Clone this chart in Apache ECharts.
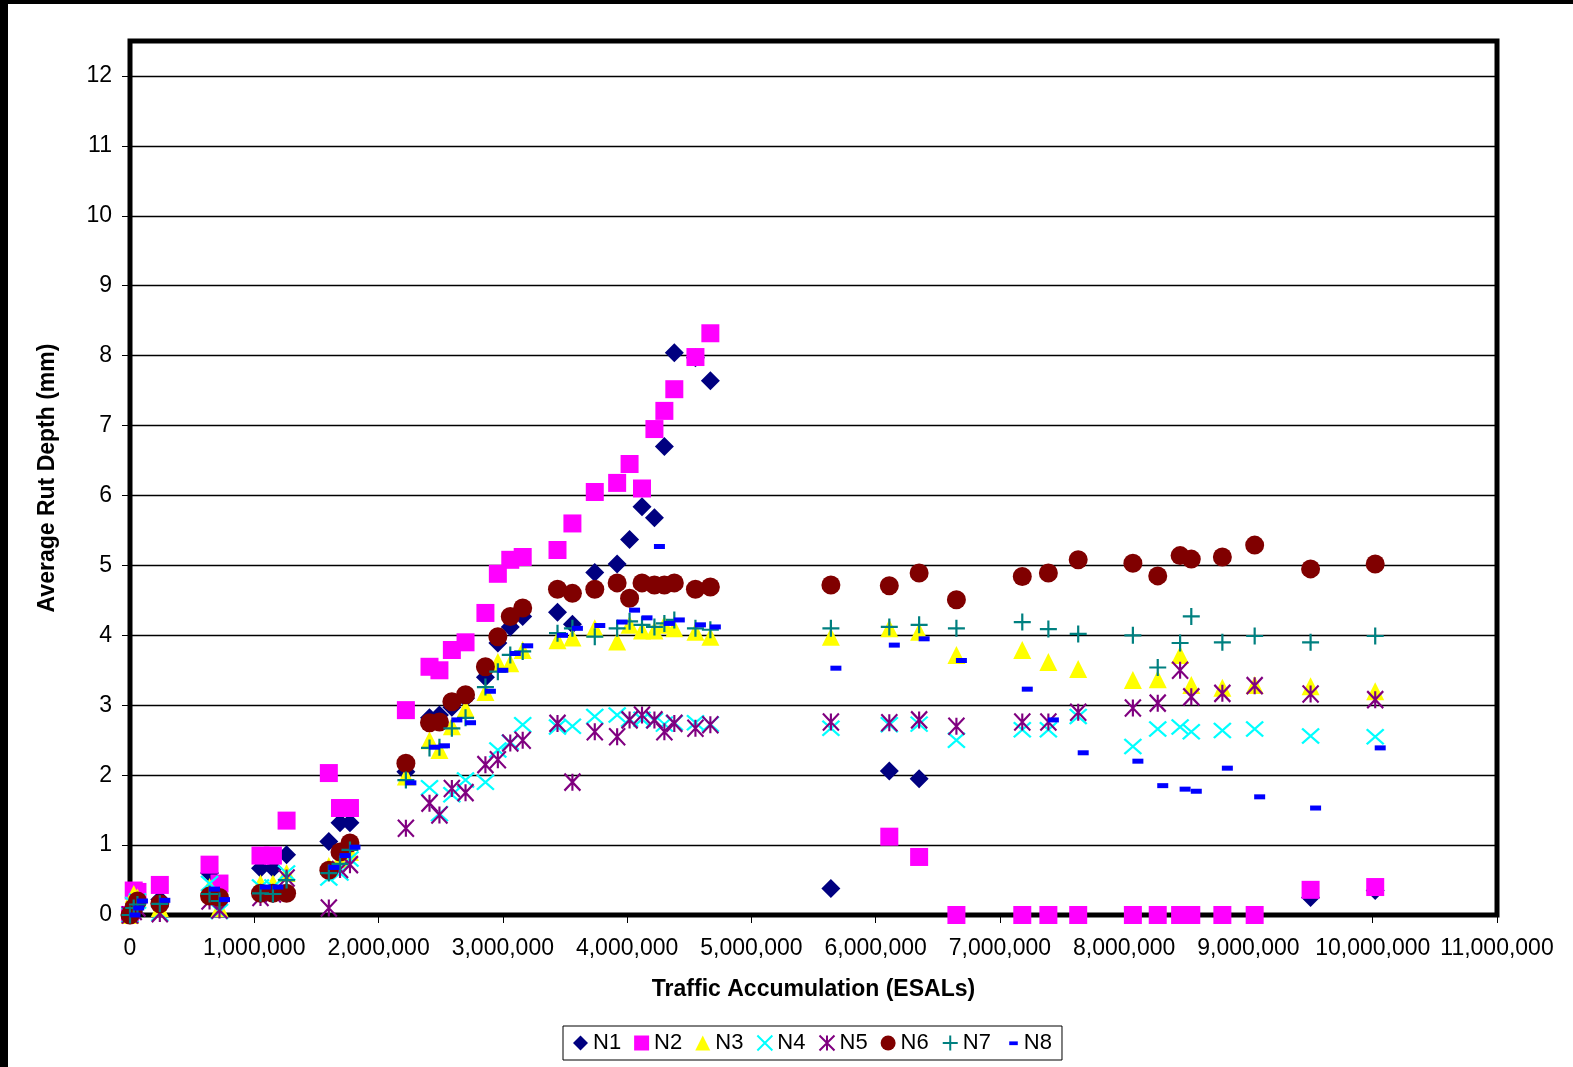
<!DOCTYPE html>
<html>
<head>
<meta charset="utf-8">
<title>Average Rut Depth vs Traffic Accumulation</title>
<script src="https://cdn.jsdelivr.net/npm/echarts@6/dist/echarts.min.js"></script>
<style>
  html, body { margin: 0; padding: 0; background: #fff; }
  #chart { width: 1573px; height: 1067px; }
</style>
</head>
<body>
<div id="chart"></div>
<script>
// Survey points: cumulative ESALs at each rut measurement
const esals = [
  0, 30000, 60000, 240000, 640000, 720000, 1050000, 1150000, 1260000,
  1600000, 1690000, 1770000, 2220000, 2410000, 2490000, 2590000, 2700000,
  2860000, 2960000, 3060000, 3160000, 3440000, 3560000, 3740000, 3920000,
  4020000, 4120000, 4220000, 4300000, 4380000, 4550000, 4670000, 5640000,
  6110000, 6350000, 6650000, 7180000, 7390000, 7630000, 8070000, 8270000,
  8450000, 8540000, 8790000, 9050000, 9500000, 10020000
];

// Average rut depth (mm) per section; null = no reading
const n1 = [
  0, 0.1, 0.2, 0.22, 0.6, 0.2, 0.67, 0.67, 0.86,
  1.05, 1.32, 1.32, 2.05, 2.82, 2.86, 2.97, 3.1,
  3.4, 3.89, 4.12, 4.27, 4.33, 4.16, 4.9, 5.02,
  5.37, 5.84, 5.68, 6.7, 8.04, 7.97, 7.64, 0.38,
  2.06, 1.95, null, null, null, null, null, null,
  null, null, null, null, 0.25, 0.35
];
const n2 = [
  0, 0.35, 0.33, 0.43, 0.72, 0.45, 0.85, 0.85, 1.35,
  2.03, 1.53, 1.53, 2.93, 3.55, 3.5, 3.79, 3.9,
  4.32, 4.88, 5.08, 5.12, 5.22, 5.6, 6.05, 6.18,
  6.45, 6.1, 6.95, 7.21, 7.52, 7.98, 8.32, null,
  1.12, 0.83, 0, 0, 0, 0, 0, 0,
  0, 0, 0, 0, 0.36, 0.4
];
const n3 = [
  0, 0.3, 0.25, 0.1, 0.4, 0.1, 0.45, 0.45, 0.6,
  0.7, 0.8, 0.9, 1.98, 2.5, 2.36, 2.7, 2.95,
  3.19, 3.62, 3.6, 3.79, 3.93, 3.97, 4.1, 3.91,
  4.15, 4.07, 4.07, 4.15, 4.1, 4.05, 3.98, 3.98,
  4.1, 4.05, 3.72, 3.79, 3.62, 3.52, 3.36, 3.37,
  3.72, 3.29, 3.25, 3.29, 3.27, 3.2
];
const n4 = [
  0, 0.15, 0.2, 0.02, 0.45, 0.05, 0.4, 0.4, 0.6,
  0.53, 0.6, 0.8, null, 1.82, 1.45, 1.72, 1.93,
  1.9, 2.36, 2.47, 2.72, 2.69, 2.7, 2.84, 2.86,
  2.8, 2.8, 2.78, 2.73, 2.75, 2.75, 2.73, 2.67,
  2.72, 2.73, 2.5, 2.65, 2.65, 2.84, 2.41, 2.66,
  2.69, 2.62, 2.64, 2.66, 2.56, 2.55
];
const n5 = [
  0, 0.05, 0.1, 0.02, 0.2, 0.07, 0.25, 0.3, 0.53,
  0.1, 0.65, 0.72, 1.24, 1.6, 1.43, 1.81, 1.75,
  2.15, 2.22, 2.46, 2.5, 2.74, 1.9, 2.62, 2.55,
  2.79, 2.86, 2.79, 2.62, 2.74, 2.67, 2.72, 2.76,
  2.75, 2.79, 2.7, 2.76, 2.76, 2.9, 2.96, 3.03,
  3.5, 3.12, 3.17, 3.28, 3.16, 3.08
];
const n6 = [
  0, 0.1, 0.2, 0.16, 0.27, 0.25, 0.31, 0.31, 0.31,
  0.64, 0.9, 1.03, 2.17, 2.75, 2.76, 3.05, 3.15,
  3.55, 3.98, 4.27, 4.39, 4.66, 4.6, 4.66, 4.75,
  4.53, 4.75, 4.72, 4.72, 4.75, 4.66, 4.69, 4.72,
  4.71, 4.89, 4.51, 4.84, 4.89, 5.08, 5.03, 4.85,
  5.14, 5.09, 5.12, 5.29, 4.95, 5.02
];
const n7 = [
  0, 0.1, 0.15, 0.16, 0.3, 0.2, 0.31, 0.3, 0.5,
  0.6, 0.73, 0.93, 1.93, 2.39, 2.4, 2.67, 2.82,
  3.26, 3.48, 3.72, 3.77, 4.03, 4.1, 3.98, 4.1,
  4.2, 4.15, 4.12, 4.17, 4.22, 4.1, 4.08, 4.1,
  4.12, 4.15, 4.1, 4.19, 4.09, 4.02, 4.0, 3.54,
  3.89, 4.27, 3.9, 3.99, 3.9, 3.99
];
const n8 = [
  0, 0.1, 0.2, 0.21, 0.37, 0.22, 0.4, 0.4, null,
  0.68, 0.85, 0.97, 1.89, 2.4, 2.42, 2.79, 2.75,
  3.2, 3.5, 3.74, 3.85, 4.0, 4.1, 4.14, 4.19,
  4.36, 4.25, 5.27, 4.17, 4.22, 4.15, 4.12, 3.53,
  3.86, 3.95, 3.64, 3.23, 2.79, 2.32, 2.2, 1.85,
  1.8, 1.77, 2.1, 1.69, 1.53, 2.39
];

const yTicks = [0, 1, 2, 3, 4, 5, 6, 7, 8, 9, 10, 11, 12];
const xTicks = [0, 1e6, 2e6, 3e6, 4e6, 5e6, 6e6, 7e6, 8e6, 9e6, 10e6, 11e6];

const FONT = "'Liberation Sans', Arial, sans-serif";

// Marker shapes (stroked ones drawn as open paths)
const SYM_X = 'path://M0,0L10,10M10,0L0,10';
const SYM_STAR = 'path://M0,0L10,10M10,0L0,10M5,0L5,10';
const SYM_PLUS = 'path://M5,0L5,10M0,5L10,5';
// Short dash for the legend key, padded to a 14x14 box by the outer move-to points
const LEGEND_DASH = 'path://M0,0M5,5.5L13,5.5L13,9L5,9ZM14,14';

function pairs(values) {
  return esals.map((x, i) => [x, values[i]]).filter(p => p[1] !== null);
}

const seriesDefs = [
  { name: 'N1', data: n1, symbol: 'diamond', size: [19, 19], color: '#000080' },
  { name: 'N2', data: n2, symbol: 'rect', size: [18, 18], color: '#FF00FF' },
  { name: 'N3', data: n3, symbol: 'triangle', size: [18, 18], color: '#FFFF00' },
  { name: 'N4', data: n4, symbol: SYM_X, size: [17, 15], color: '#00FFFF', stroke: true },
  { name: 'N5', data: n5, symbol: SYM_STAR, size: [16, 17], color: '#800080', stroke: true },
  { name: 'N6', data: n6, symbol: 'circle', size: [19, 19], color: '#800000' },
  { name: 'N7', data: n7, symbol: SYM_PLUS, size: [17, 17], color: '#008080', stroke: true },
  { name: 'N8', data: n8, symbol: 'rect', size: [11, 5], color: '#0000FF', offset: [5, 0], legendIcon: LEGEND_DASH }
];

const series = seriesDefs.map(d => ({
  name: d.name,
  type: 'scatter',
  data: pairs(d.data),
  symbol: d.symbol,
  symbolSize: d.size,
  symbolOffset: d.offset || [0, 0],
  itemStyle: d.stroke
    ? { color: 'rgba(0,0,0,0)', borderColor: d.color, borderWidth: 2.2, opacity: 1 }
    : { color: d.color, opacity: 1 },
  emphasis: { disabled: true },
  animation: false
}));

const chart = echarts.init(document.getElementById('chart'), null, { renderer: 'canvas' });
chart.setOption({
  backgroundColor: '#ffffff',
  animation: false,
  textStyle: { fontFamily: FONT, color: '#000' },
  graphic: [
    { type: 'rect', left: 0, top: 0, shape: { width: 1573, height: 4 }, style: { fill: '#000' }, z: 100 },
    { type: 'rect', left: 0, top: 0, shape: { width: 8, height: 1067 }, style: { fill: '#000' }, z: 100 }
  ],
  grid: {
    left: 130, top: 41, right: 76, bottom: 152,
    show: true, borderColor: '#000', borderWidth: 5, backgroundColor: '#fff'
  },
  legend: {
    left: 563, top: 1026,
    orient: 'horizontal',
    itemWidth: 15, itemHeight: 15, itemGap: 13,
    padding: [6, 10, 6, 10],
    borderColor: '#000', borderWidth: 1, backgroundColor: '#fff',
    textStyle: { fontFamily: FONT, fontSize: 22, color: '#000' },
    data: seriesDefs.map(d => d.legendIcon ? { name: d.name, icon: d.legendIcon } : d.name)
  },
  xAxis: {
    type: 'value',
    min: 0, max: 11000000, interval: 1000000,
    name: 'Traffic Accumulation (ESALs)',
    nameLocation: 'middle', nameGap: 63,
    nameTextStyle: { fontFamily: FONT, fontSize: 23, fontWeight: 'bold', color: '#000' },
    axisLine: { show: false },
    axisTick: { show: true, length: 8, lineStyle: { color: '#000', width: 1 }, customValues: xTicks },
    axisLabel: {
      fontFamily: FONT, fontSize: 23, color: '#000', margin: 22,
      customValues: xTicks,
      formatter: v => Math.round(v).toLocaleString('en-US')
    },
    splitLine: { show: false }
  },
  yAxis: {
    type: 'value',
    min: 0, max: 12.5, interval: 1,
    name: 'Average Rut Depth (mm)',
    nameLocation: 'middle', nameGap: 71, nameRotate: 90,
    nameTextStyle: { fontFamily: FONT, fontSize: 23, fontWeight: 'bold', color: '#000' },
    axisLine: { show: false },
    axisTick: { show: true, length: 8, lineStyle: { color: '#000', width: 1 }, customValues: yTicks },
    axisLabel: { fontFamily: FONT, fontSize: 23, color: '#000', margin: 18, customValues: yTicks },
    splitLine: { show: true, lineStyle: { color: '#000', width: 1.3 } }
  },
  series: series
});
</script>
</body>
</html>
